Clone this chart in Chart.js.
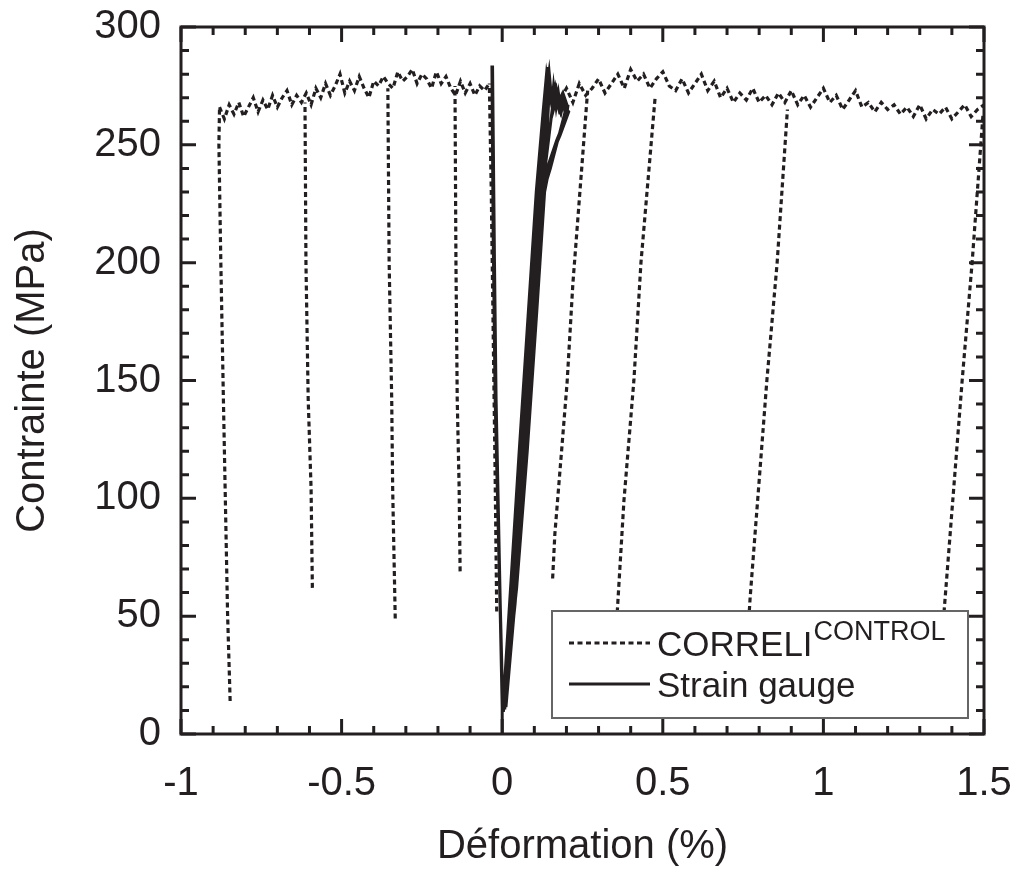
<!DOCTYPE html>
<html>
<head>
<meta charset="utf-8">
<script src="https://cdn.jsdelivr.net/npm/chart.js@4"></script>
<style>
  html, body { margin: 0; padding: 0; background: #fff; }
</style>
</head>
<body>
<canvas id="stressChart" width="1021" height="871"></canvas>
<script>
// Axis ticks
const xTicks = [-1, -0.5, 0, 0.5, 1, 1.5];
const yTicks = [0, 50, 100, 150, 200, 250, 300];

// CORRELI envelope, left of the gauge
const envLeftStrain = [-0.88, -0.865, -0.85, -0.835, -0.82, -0.805, -0.79, -0.775, -0.76, -0.745,
  -0.73, -0.715, -0.70, -0.685, -0.67, -0.655, -0.64, -0.625, -0.61, -0.595,
  -0.58, -0.565, -0.55, -0.535, -0.52, -0.505, -0.49, -0.475, -0.46, -0.445,
  -0.43, -0.415, -0.40, -0.385, -0.37, -0.355, -0.34, -0.325, -0.31, -0.295,
  -0.28, -0.265, -0.25, -0.235, -0.22, -0.205, -0.19, -0.175, -0.16, -0.145,
  -0.13, -0.115, -0.10, -0.085, -0.07, -0.055, -0.04];
const envLeftStress = [266, 261, 267, 263, 268, 262, 266, 270, 264, 269,
  265, 271, 266, 270, 273, 267, 271, 268, 272, 267,
  274, 270, 276, 271, 275, 280, 272, 277, 273, 279,
  274, 270, 277, 275, 279, 276, 274, 281, 277, 279,
  282, 276, 280, 278, 274, 281, 276, 279, 274, 271,
  277, 272, 276, 271, 275, 273, 276];

// CORRELI envelope, right of the gauge
const envRightStrain = [0.16, 0.18, 0.20, 0.22, 0.24, 0.26, 0.28, 0.30, 0.32, 0.34,
  0.36, 0.38, 0.40, 0.42, 0.44, 0.46, 0.48, 0.50, 0.52, 0.54,
  0.56, 0.58, 0.60, 0.62, 0.64, 0.66, 0.68, 0.70, 0.72, 0.74,
  0.76, 0.78, 0.80, 0.82, 0.84, 0.86, 0.88, 0.90, 0.92, 0.94,
  0.96, 0.98, 1.00, 1.02, 1.04, 1.06, 1.08, 1.10, 1.12, 1.14,
  1.16, 1.18, 1.20, 1.22, 1.24, 1.26, 1.28, 1.30, 1.32, 1.34,
  1.36, 1.38, 1.40, 1.42, 1.44, 1.46, 1.48, 1.50];
const envRightStress = [275, 269, 274, 268, 276, 271, 274, 278, 272, 276,
  280, 274, 282, 277, 280, 274, 278, 281, 275, 273,
  278, 272, 276, 280, 273, 277, 270, 274, 268, 272,
  269, 274, 268, 271, 267, 272, 268, 273, 267, 271,
  266, 270, 274, 268, 271, 265, 269, 273, 266, 268,
  264, 268, 265, 267, 263, 266, 262, 267, 261, 265,
  263, 266, 261, 264, 267, 262, 265, 267];

// CORRELI unload/reload branches (bottom to top)
const branchStrain = [
  [-0.847, -0.855, -0.868, -0.876, -0.882, -0.88],
  [-0.591, -0.595, -0.604, -0.611, -0.614],
  [-0.333, -0.341, -0.344, -0.352, -0.356],
  [-0.131, -0.134, -0.140, -0.144, -0.147],
  [-0.017, -0.022, -0.028, -0.034, -0.04],
  [0.157, 0.164, 0.202, 0.220, 0.252, 0.266],
  [0.350, 0.357, 0.379, 0.410, 0.432, 0.476],
  [0.766, 0.772, 0.824, 0.856, 0.888],
  [1.365, 1.374, 1.432, 1.463, 1.497]
];
const branchStress = [
  [14, 51, 142, 200, 250, 266],
  [62, 104, 142, 200, 268],
  [49, 104, 142, 200, 274],
  [69, 104, 142, 200, 275],
  [52, 110, 170, 230, 276],
  [66, 85, 149, 191, 248, 273],
  [30, 49, 99, 150, 200, 270],
  [45, 58, 150, 200, 265],
  [30, 49, 150, 200, 263]
];

// Strain gauge: descending line left of zero
const gaugeDownStrain = [0.000, 0.000, -0.007, -0.022, -0.028, -0.032, -0.030, -0.024, -0.019, -0.006, 0.002];
const gaugeDownStress = [0, 11, 57, 142, 210, 283, 283, 200, 142, 55, 11];
// Strain gauge: repeated loops right of zero
const gaugeLoopStrain = [0.003, 0.030, 0.058, 0.084, 0.112, 0.143,
  0.148, 0.155, 0.160, 0.168, 0.175, 0.182, 0.190, 0.196, 0.205, 0.200,
  0.170, 0.140, 0.125, 0.100, 0.072, 0.040, 0.006,
  0.008, 0.040, 0.070, 0.100, 0.126, 0.140, 0.146,
  0.152, 0.160, 0.166, 0.175, 0.185, 0.195, 0.207,
  0.180, 0.155, 0.132, 0.108, 0.078, 0.045, 0.004,
  0.002, 0.027, 0.052, 0.078, 0.106, 0.128, 0.138,
  0.150, 0.158, 0.170, 0.180, 0.172, 0.162,
  0.120, 0.094, 0.066, 0.036, 0.005,
  0.006, 0.034, 0.064, 0.092, 0.118, 0.141,
  0.156, 0.168, 0.178, 0.188, 0.198,
  0.150, 0.132, 0.106, 0.082, 0.050, 0.010,
  0.012, 0.052, 0.082, 0.107, 0.132, 0.146,
  0.158, 0.170, 0.184, 0.194, 0.204];
const gaugeLoopStress = [10, 62, 120, 175, 228, 283,
  276, 268, 275, 266, 272, 265, 270, 263, 267, 262,
  252, 240, 226, 172, 112, 55, 11,
  12, 66, 125, 180, 235, 275, 281,
  272, 268, 274, 268, 271, 266, 264,
  254, 246, 230, 180, 120, 62, 10,
  10, 64, 118, 172, 230, 265, 280,
  270, 264, 270, 263, 268, 272,
  225, 170, 115, 58, 11,
  11, 60, 118, 175, 228, 278,
  269, 274, 266, 271, 265,
  240, 232, 180, 128, 72, 12,
  12, 75, 130, 180, 235, 272,
  267, 273, 264, 270, 266];

const ink = '#231f20';
const fontFamily = '"Liberation Sans", Arial, Helvetica, sans-serif';

function points(xs, ys) {
  return xs.map((x, i) => ({ x: x, y: ys[i] }));
}
function joinSegments(segments) {
  const out = [];
  segments.forEach((s, i) => {
    if (i > 0) out.push({ x: s[0].x, y: null });
    out.push(...s);
  });
  return out;
}

const correliData = joinSegments([
  points(envLeftStrain, envLeftStress),
  points(envRightStrain, envRightStress),
  ...branchStrain.map((xs, i) => points(xs, branchStress[i]))
]);
const gaugeData = joinSegments([
  points(gaugeDownStrain, gaugeDownStress),
  points(gaugeLoopStrain, gaugeLoopStress)
]);

// Frame with inward major/minor ticks on all four sides
const frameTicks = {
  id: 'frameTicks',
  afterDatasetsDraw(chart) {
    const { ctx, chartArea: a, scales: { x, y } } = chart;
    ctx.save();
    ctx.strokeStyle = ink;
    ctx.lineWidth = 3;
    ctx.beginPath();
    for (let i = 0; i <= 25; i++) {
      const v = -1 + i * 0.1;
      const len = i % 5 === 0 ? 15 : 8;
      const px = x.getPixelForValue(v);
      ctx.moveTo(px, a.bottom); ctx.lineTo(px, a.bottom - len);
      ctx.moveTo(px, a.top); ctx.lineTo(px, a.top + len);
    }
    for (let v = 0; v <= 300; v += 10) {
      const len = v % 50 === 0 ? 15 : 8;
      const py = y.getPixelForValue(v);
      ctx.moveTo(a.left, py); ctx.lineTo(a.left + len, py);
      ctx.moveTo(a.right, py); ctx.lineTo(a.right - len, py);
    }
    ctx.stroke();
    ctx.strokeRect(a.left, a.top, a.right - a.left, a.bottom - a.top);
    ctx.restore();
  }
};

// Boxed legend inside the plot, with superscript
const boxLegend = {
  id: 'boxLegend',
  afterDraw(chart) {
    const ctx = chart.ctx;
    const bx = 552, by = 611, bw = 416, bh = 107;
    ctx.save();
    ctx.fillStyle = '#fff';
    ctx.fillRect(bx, by, bw, bh);
    ctx.strokeStyle = '#666';
    ctx.lineWidth = 2;
    ctx.strokeRect(bx, by, bw, bh);

    ctx.strokeStyle = ink;
    ctx.lineWidth = 3;
    ctx.setLineDash([5, 3.5]);
    ctx.beginPath(); ctx.moveTo(569, 643); ctx.lineTo(650, 643); ctx.stroke();
    ctx.setLineDash([]);
    ctx.beginPath(); ctx.moveTo(569, 684); ctx.lineTo(650, 684); ctx.stroke();

    ctx.fillStyle = ink;
    ctx.textBaseline = 'alphabetic';
    ctx.font = '35px ' + fontFamily;
    ctx.fillText('CORRELI', 657, 656);
    const w = ctx.measureText('CORRELI').width;
    ctx.fillText('Strain gauge', 657, 697);
    ctx.font = '27px ' + fontFamily;
    ctx.fillText('CONTROL', 657 + w + 1, 640);
    ctx.restore();
  }
};

new Chart(document.getElementById('stressChart'), {
  type: 'scatter',
  data: {
    datasets: [
      {
        label: 'CORRELI CONTROL',
        data: correliData,
        showLine: true,
        borderColor: ink,
        borderWidth: 3.2,
        borderDash: [5, 3.5],
        pointRadius: 0,
        spanGaps: false,
        order: 1
      },
      {
        label: 'Strain gauge',
        data: gaugeData,
        showLine: true,
        borderColor: ink,
        borderWidth: 3,
        pointRadius: 0,
        spanGaps: false,
        order: 0
      }
    ]
  },
  options: {
    responsive: false,
    devicePixelRatio: 1,
    animation: false,
    layout: { padding: { top: 27, right: 37, left: 0, bottom: 0 } },
    plugins: {
      legend: { display: false },
      tooltip: { enabled: false }
    },
    scales: {
      x: {
        type: 'linear',
        min: -1,
        max: 1.5,
        afterBuildTicks: s => { s.ticks = xTicks.map(v => ({ value: v })); },
        afterFit: s => { s.height = 137; s.paddingLeft = 0; s.paddingRight = 0; },
        grid: { display: false, drawTicks: false },
        border: { display: false },
        ticks: {
          color: ink,
          padding: 26,
          maxRotation: 0,
          font: { family: fontFamily, size: 40 },
          callback: v => String(v)
        },
        title: {
          display: true,
          text: 'Déformation (%)',
          color: ink,
          font: { family: fontFamily, size: 40 },
          padding: { top: 0, bottom: 0 }
        }
      },
      y: {
        type: 'linear',
        min: 0,
        max: 300,
        afterBuildTicks: s => { s.ticks = yTicks.map(v => ({ value: v })); },
        afterFit: s => { s.width = 181; s.paddingTop = 0; s.paddingBottom = 0; },
        grid: { display: false, drawTicks: false },
        border: { display: false },
        ticks: {
          color: ink,
          padding: 20,
          font: { family: fontFamily, size: 40 },
          callback: v => String(v)
        },
        title: {
          display: true,
          text: 'Contrainte (MPa)',
          color: ink,
          font: { family: fontFamily, size: 40 },
          padding: { top: 9, bottom: 0 }
        }
      }
    }
  },
  plugins: [frameTicks, boxLegend]
});
</script>
</body>
</html>
